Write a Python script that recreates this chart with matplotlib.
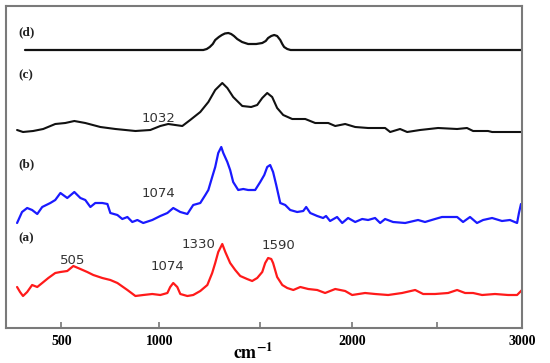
import numpy as np
import matplotlib
matplotlib.use('Agg')
import matplotlib.pyplot as plt

# Raman spectra, offset stacked (a.u.)
wn_a = [276, 291, 306, 327, 352, 378, 403, 434, 469, 495, 530, 561, 597, 632, 663, 709, 750, 786,
        837, 878, 918, 964, 1005, 1040, 1054, 1069, 1089, 1104, 1139, 1168, 1203, 1238, 1262, 1277,
        1292, 1312, 1327, 1351, 1376, 1401, 1435, 1460, 1485, 1511, 1527, 1543, 1560, 1570, 1592,
        1620, 1647, 1680, 1718, 1761, 1810, 1853, 1908, 1962, 2000, 2076, 2135, 2212, 2294, 2371,
        2418, 2488, 2565, 2618, 2665, 2712, 2765, 2841, 2918, 2971, 3000]
int_a = [41, 36, 32, 36, 43, 41, 45, 50, 55, 56, 57, 62, 59, 56, 53, 50, 48, 45,
         38, 32, 33, 34, 33, 35, 41, 45, 41, 34, 32, 33, 37, 43, 55, 65,
         76, 84, 76, 65, 58, 52, 49, 47, 50, 56, 65, 70, 69, 65, 51,
         43, 40, 38, 41, 39, 38, 35, 39, 37, 33, 35, 34, 33, 35, 38,
         34, 34, 35, 38, 35, 35, 33, 34, 33, 33, 38]

wn_b = [276, 301, 327, 352, 378, 403, 444, 469, 495, 530, 566, 597, 622, 648, 673, 709, 735, 750,
        786, 811, 837, 862, 888, 918, 964, 1005, 1040, 1069, 1104, 1139, 1168, 1203, 1228, 1243,
        1262, 1277, 1292, 1307, 1317, 1337, 1351, 1366, 1391, 1416, 1440, 1475, 1500, 1522, 1538,
        1554, 1570, 1587, 1609, 1636, 1663, 1701, 1734, 1750, 1772, 1810, 1842, 1858, 1880, 1918,
        1946, 1978, 2018, 2059, 2094, 2135, 2165, 2194, 2241, 2312, 2388, 2429, 2488, 2529, 2618,
        2653, 2694, 2735, 2771, 2824, 2882, 2929, 2971, 2982, 2994]
int_b = [105, 116, 120, 118, 114, 121, 125, 128, 135, 130, 136, 130, 128, 121, 125, 125, 124, 115,
         113, 109, 111, 106, 108, 105, 108, 112, 115, 120, 116, 114, 123, 125, 133, 138,
         151, 161, 175, 181, 175, 166, 158, 146, 138, 139, 138, 138, 146, 153, 161,
         163, 156, 143, 125, 123, 118, 116, 117, 121, 115, 112, 110, 112, 107, 111,
         105, 110, 106, 109, 108, 110, 105, 109, 106, 105, 108, 106, 109, 111, 111,
         106, 111, 105, 108, 110, 107, 108, 105, 115, 124]

wn_c = [276, 306, 357, 408, 469, 520, 566, 622, 699, 776, 878, 954, 1005, 1044, 1079, 1114, 1153,
        1203, 1243, 1277, 1312, 1337, 1366, 1411, 1455, 1485, 1511, 1538, 1565, 1592, 1625, 1674,
        1745, 1799, 1870, 1908, 1962, 2018, 2094, 2194, 2224, 2282, 2324, 2400, 2506, 2618, 2676,
        2712, 2800, 2824, 3000]
int_c = [198, 196, 197, 199, 204, 205, 207, 205, 201, 199, 197, 198, 202, 204, 203, 202, 208,
         216, 226, 238, 245, 240, 231, 222, 221, 223, 230, 235, 231, 220, 213, 209,
         209, 205, 205, 202, 204, 201, 200, 200, 196, 199, 196, 198, 200, 199, 200,
         197, 197, 196, 196]

wn_d = [316, 1218, 1235, 1250, 1265, 1277, 1295, 1310, 1325, 1342, 1356, 1370, 1386, 1410, 1440,
        1480, 1511, 1530, 1543, 1560, 1576, 1592, 1609, 1620, 1630, 1647, 1665, 3000]
int_d = [278, 278, 279, 281, 284, 288, 291, 293, 294.5, 295, 294, 292, 289, 286, 284,
         284, 285, 287, 290, 292, 293, 292, 288, 284, 281, 279, 278, 278]

# peak labels: text, wavenumber, height
peaks = [('505', 556, 68), ('1074', 1040, 61), ('1330', 1193, 84), ('1590', 1598, 83),
         ('1074', 995, 135), ('1032', 995, 210)]
panels = [('(a)', 90), ('(b)', 164), ('(c)', 253), ('(d)', 296)]

# the original axis is not evenly spaced; piecewise mapping through the ticks
anchor_wn = np.array([0, 500, 1000, 1500, 2000, 2500, 3000, 4000])
anchor_px = np.array([-38, 61, 159, 260, 352, 437, 522, 692])


def fwd(x):
    return np.interp(x, anchor_wn, anchor_px)


def inv(p):
    return np.interp(p, anchor_px, anchor_wn)


plt.rcParams['mathtext.fontset'] = 'stix'

fig = plt.figure(figsize=(5.5, 3.63), dpi=100)
ax = fig.add_axes([6/550, 1-328/363, 516/550, 322/363])
ax.set_xscale('function', functions=(fwd, inv))

kw = dict(solid_joinstyle='round', solid_capstyle='round')
ax.plot(wn_a, int_a, c='#ff1a1a', lw=1.6, **kw)
ax.plot(wn_b, int_b, c='#1a1aff', lw=1.6, **kw)
ax.plot(wn_c, int_c, c='#111111', lw=1.5, **kw)
ax.plot(wn_d, int_d, c='#111111', lw=1.6, **kw)

for t, x, y in peaks:
    ax.text(x, y, t, ha='center', va='center', fontsize=9.5, color='#333333', family='DejaVu Sans')
for t, y in panels:
    ax.text(281, y, t, ha='left', va='center', fontsize=9.5, fontweight='bold',
            family='Liberation Serif', color='#222222')

ax.set_xlim(220, 3000)
ax.set_ylim(0, 322)
ax.set_yticks([])
ax.set_xticks([500, 1000, 1500, 2000, 2500, 3000])
ax.set_xticklabels(['500', '1000', '', '2000', '', '3000'], fontweight='bold',
                   family='Liberation Serif', fontsize=10)
ax.tick_params(axis='x', direction='in', length=4, width=1.2, color='#777777', pad=5)
ax.xaxis.set_minor_locator(matplotlib.ticker.NullLocator())
for s in ax.spines.values():
    s.set_color('#7a7a7a')
    s.set_linewidth(1.5)

fig.text(253/550, 1-353/363, r'$\mathbf{cm^{-1}}$', ha='center', va='center', fontsize=13)

plt.savefig('out.png', dpi=100)
